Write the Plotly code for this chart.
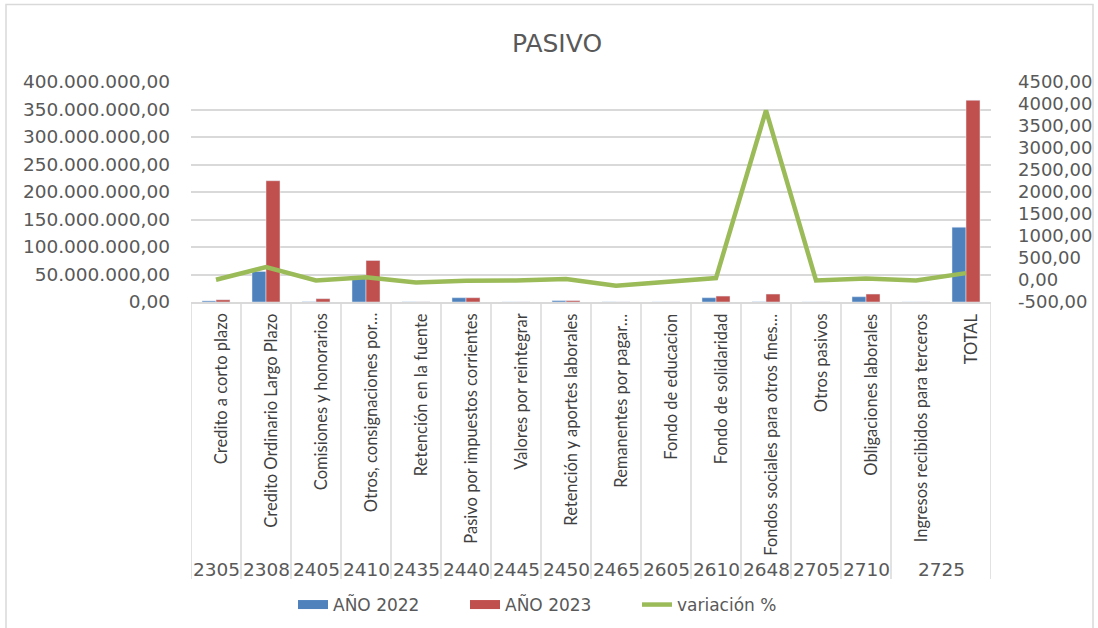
import plotly.graph_objects as go

categories = ["Credito a corto plazo", "Credito Ordinario Largo Plazo", "Comisiones y honorarios",
              "Otros, consignaciones por…", "Retención en la fuente", "Pasivo por impuestos corrientes",
              "Valores por reintegrar", "Retención y aportes laborales", "Remanentes por pagar…",
              "Fondo de educacion", "Fondo de solidaridad", "Fondos sociales para otros fines…",
              "Otros pasivos", "Obligaciones laborales", "Ingresos recibidos para terceros", "TOTAL"]
codes = ["2305", "2308", "2405", "2410", "2435", "2440", "2445", "2450", "2465",
         "2605", "2610", "2648", "2705", "2710", "2725"]
code_span = [1, 1, 1, 1, 1, 1, 1, 1, 1, 1, 1, 1, 1, 1, 2]
anio_2022 = [2.0e6, 55.5e6, 0.5e6, 43.5e6, 0.3e6, 7.8e6, 0.1e6, 2.5e6, 0.2e6,
             0.1e6, 7.8e6, 0.4e6, 0.1e6, 9.6e6, 0.1e6, 136e6]
anio_2023 = [4.0e6, 220.5e6, 6.0e6, 75.5e6, 0.2e6, 7.8e6, 0.1e6, 2.5e6, 0.1e6,
             0.1e6, 10.8e6, 14.5e6, 0.1e6, 14.5e6, 0.1e6, 366.8e6]
variacion = [5, 292, -10, 65, -56, -18, -10, 20, -131, -33, 43, 3857, -10, 35, -10, 156]
left_ticks = [0, 50e6, 100e6, 150e6, 200e6, 250e6, 300e6, 350e6, 400e6]
right_ticks = [-500, 0, 500, 1000, 1500, 2000, 2500, 3000, 3500, 4000, 4500]
right_labels = [f"{v:.2f}".replace(".", ",") for v in right_ticks]

W, H = 1098, 628
L, R, T, B = 191, 991, 81.7, 302.3
PW, PH = R - L, B - T

def px(p):
    return (p - L) / PW

def py(p):
    return (B - p) / PH

xs = list(range(len(categories)))
grey = "#595959"
wide = "'DejaVu Sans', Verdana, sans-serif"
narrow = "Lato, 'Open Sans', sans-serif"
c22, c23, cvar = "#4f81bd", "#c0504d", "#9bbb59"

fig = go.Figure()
fig.add_trace(go.Bar(x=xs, y=anio_2022, name="AÑO 2022", marker_color=c22, showlegend=False))
fig.add_trace(go.Bar(x=xs, y=anio_2023, name="AÑO 2023", marker_color=c23, showlegend=False))
fig.add_trace(go.Scatter(x=xs, y=variacion, name="variación %", yaxis="y2", mode="lines",
                         line=dict(color=cvar, width=4.5), showlegend=False))
# legend keys (Excel-style wide swatches)
for name, col, w in [("AÑO 2022", c22, 9), ("AÑO 2023", c23, 9), ("variación %", cvar, 4.5)]:
    fig.add_trace(go.Scatter(x=[None], y=[None], mode="lines", name=name,
                             line=dict(color=col, width=w), hoverinfo="skip"))

annotations = []
for i, c in enumerate(categories):
    annotations.append(dict(x=i, y=py(312), xref="x", yref="paper", text=c, textangle=-90,
                            showarrow=False, xanchor="center", yanchor="top", xshift=5,
                            font=dict(size=16.5, color="#404040", family=narrow)))
pos = 0
shapes = []
bounds = [-0.5]
for code, span in zip(codes, code_span):
    center = pos + (span - 1) / 2
    annotations.append(dict(x=center, y=py(571), xref="x", yref="paper", text=code,
                            showarrow=False, xanchor="center", yanchor="middle",
                            font=dict(size=18.5, color=grey, family=wide)))
    pos += span
    bounds.append(pos - 0.5)
for b in bounds:
    shapes.append(dict(type="line", xref="x", yref="paper", x0=b, x1=b, y0=0, y1=py(580),
                       line=dict(color="#d9d9d9", width=1.5)))
shapes.append(dict(type="rect", xref="paper", yref="paper", x0=px(6), x1=px(1093),
                   y0=py(640), y1=py(4), line=dict(color="#d9d9d9", width=1.5)))

fig.update_layout(
    width=W, height=H,
    margin=dict(l=L, r=W - R, t=T, b=H - B, pad=0, autoexpand=False),
    paper_bgcolor="white", plot_bgcolor="white",
    separators=",.",
    title=dict(text="PASIVO", xref="container", x=557 / W, xanchor="center",
               yref="container", y=1 - 43 / H, yanchor="middle",
               font=dict(size=25, color=grey, family=wide)),
    barmode="group", bargap=0.44, bargroupgap=0,
    xaxis=dict(range=[-0.5, 15.5], showticklabels=False, showgrid=False, zeroline=False,
               showline=True, linecolor="#d9d9d9", linewidth=1.5, ticks=""),
    yaxis=dict(range=[0, 400e6], tickvals=left_ticks, tickformat=",.2f", showgrid=True,
               gridcolor="#d9d9d9", gridwidth=1.5, zeroline=False, ticklabelstandoff=20,
               tickfont=dict(size=18.5, color=grey, family=wide)),
    yaxis2=dict(range=[-500, 4500], overlaying="y", side="right", tickvals=right_ticks,
                ticktext=right_labels, showgrid=False, zeroline=False, ticklabelstandoff=26,
                tickfont=dict(size=18, color=grey, family=wide)),
    legend=dict(orientation="h", xref="container", x=293 / W, xanchor="left",
                yref="container", y=1 - 605 / H, yanchor="middle",
                entrywidth=127, entrywidthmode="pixels",
                font=dict(size=17, color=grey, family=wide), traceorder="normal"),
    annotations=annotations, shapes=shapes,
)

fig.write_html("out.html", config={"displayModeBar": False},
               post_script="document.body.style.margin='0px';")
